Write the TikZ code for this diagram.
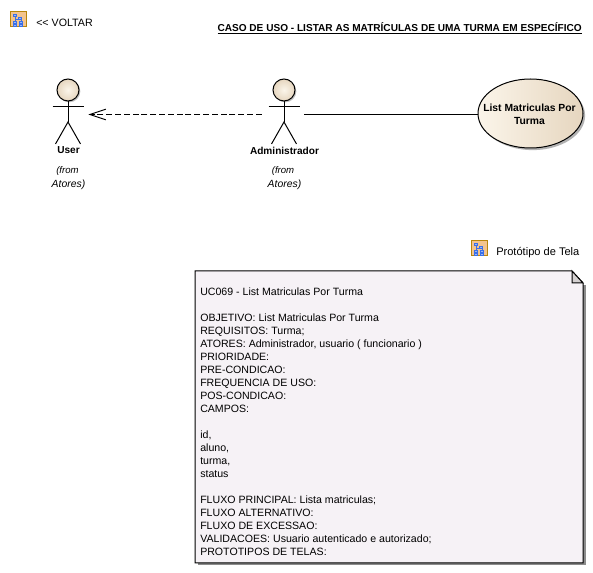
\documentclass[tikz,border=0pt]{standalone}
\usepackage{fontspec}
\setmainfont{Liberation Sans}
\usetikzlibrary{arrows.meta,shapes.geometric,shadows}

\definecolor{notefill}{HTML}{F6F2F6}
\definecolor{foldfill}{HTML}{D4D0D0}
\definecolor{skinlight}{HTML}{FBF5EA}
\definecolor{skindark}{HTML}{E6D6BF}
\definecolor{iconedge}{HTML}{B8860B}
\definecolor{iconfill}{HTML}{F3C48E}
\definecolor{iconblue}{HTML}{3A6FE8}

\tikzset{
	txt/.style={font=\fontsize{8}{9.75}\selectfont, inner sep=0pt, align=center},
	bold/.style={font=\fontsize{7.56}{9.75}\selectfont\bfseries},
	actorbox/.style={minimum width=30pt, minimum height=30pt, inner sep=0pt},
	usecase/.style={ellipse, draw=black, line width=0.75pt, minimum width=78.75pt, minimum height=51.75pt, inner sep=0pt,
		left color=skinlight, right color=skindark, drop shadow={shadow xshift=1.6pt, shadow yshift=-1.6pt, fill=black!60}},
	assoc/.style={black, line width=0.75pt},
}

\begin{document}
\begin{tikzpicture}[x=0.75pt, y=-0.75pt]
	
	\useasboundingbox (0, 0) rectangle (593, 573);
	
	% LINKS AT THE TOP
	\foreach \ix/\iy in {10/12, 471/241}
	{
		\begin{scope}[xshift=\ix*0.75pt, yshift=-\iy*0.75pt]
			\draw[iconedge, fill=iconfill, line width=0.75pt] (0, 0) rectangle (16, 15);
			\draw[iconblue, line width=0.5pt] (5, 4) -- (5, 7) -- (11, 7) -- (11, 9);
			\draw[iconblue, line width=0.5pt] (5, 7) -- (5, 10);
			\foreach \bx/\by in {3/2, 8/5, 3/9, 9/9, 3/12, 9/12}
			\draw[iconblue, fill=iconblue!50, line width=0.5pt] (\bx, \by) rectangle ++(3, 2);
		\end{scope}
	}
	\node[txt, anchor=west] (back) at (36, 22.5) {<{}< VOLTAR};
	\node[txt, anchor=west, font=\fontsize{8.3}{9.75}\selectfont] (proto) at (496, 252.5) {Protótipo de Tela};
	\node[txt, bold, anchor=east] (title) at (582, 28.5) {\underline{CASO DE USO - LISTAR AS MATRÍCULAS DE UMA TURMA EM ESPECÍFICO}};
	
	% ACTORS
	\foreach \ax/\aname/\alabel/\afrom in {68/user/User/67.5, 284/admin/Administrador/283}
	{
		\node[actorbox] (\aname) at (\ax, 114.5) {};
		\shade[inner color=skinlight, outer color=skindark, draw=black, line width=0.75pt,
			drop shadow={shadow xshift=1pt, shadow yshift=-1pt, fill=black!50}] (\ax, 90) circle (11);
		\draw[assoc] (\ax, 101) -- (\ax, 122);
		\draw[assoc] (\ax-15.5, 106.5) -- (\ax+15.5, 106.5);
		\draw[assoc] (\ax-12.5, 144) -- (\ax, 122) -- (\ax+12.5, 144);
		\node[txt, bold] (\aname label) at (\ax+0.5, 150.5) {\alabel};
		\node[txt, font=\fontsize{7.2}{9.75}\selectfont\itshape] (\aname from) at (\afrom, 171) {(from};
		\node[txt, font=\fontsize{7.8}{9.75}\selectfont\itshape] (\aname pack) at (\ax+0.5, 184.5) {Atores)};
	}
	
	% USE CASE
	\node[usecase] (listcase) at (530.5, 113.5) {};
	\node[txt, font=\fontsize{7.75}{9.75}\selectfont\bfseries] (listcase text) at (529.5, 114.5) {List Matriculas Por\\Turma};
	
	% CONNECTORS
	\draw[assoc, dash pattern=on 4.4pt off 2.2pt, shorten <=1.5pt, -{Straight Barb[length=12pt, width=8pt]}] (admin.west) -- (user.east);
	\draw[assoc] (admin.east) -- (admin.east -| listcase.west);
	
	% NOTE
	\fill[black!45] (197.5, 285) -- (585.5, 285) -- (585.5, 565.5) -- (197.5, 565.5) -- cycle;
	\draw[black, line width=0.75pt, fill=notefill] (195, 271) -- (572, 271) -- (583, 283) -- (583, 563) -- (195, 563) -- cycle;
	\draw[black, line width=0.75pt, fill=foldfill] (572, 271) -- (583, 283) -- (572, 283) -- cycle;
	\node[txt, anchor=north west, align=left, font=\fontsize{7.95}{9.75}\selectfont] (notetext) at (200, 288) {%
		UC069 - List Matriculas Por Turma\\[9.75pt]
		OBJETIVO: List Matriculas Por Turma\\
		REQUISITOS: Turma;\\
		ATORES: Administrador, usuario ( funcionario )\\
		PRIORIDADE:\\
		PRE-CONDICAO:\\
		FREQUENCIA DE USO:\\
		POS-CONDICAO:\\
		CAMPOS:\\[9.75pt]
		id,\\
		aluno,\\
		turma,\\
		status\\[9.75pt]
		FLUXO PRINCIPAL: Lista matriculas;\\
		FLUXO ALTERNATIVO:\\
		FLUXO DE EXCESSAO:\\
		VALIDACOES: Usuario autenticado e autorizado;\\
		PROTOTIPOS DE TELAS:};
	
\end{tikzpicture}
\end{document}
